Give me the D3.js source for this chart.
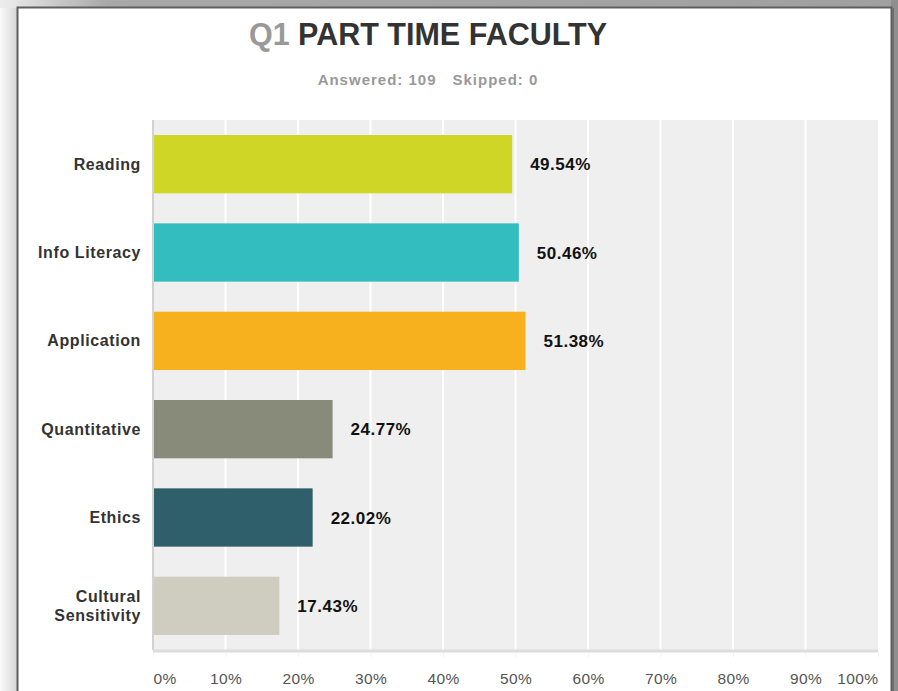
<!DOCTYPE html>
<html><head><meta charset="utf-8">
<script src="https://cdn.jsdelivr.net/npm/d3@7"></script>
<style>html,body{margin:0;padding:0;background:#fff;}svg{display:block;}</style>
</head><body>
<svg id="c" width="898" height="691"></svg>
<script>
const categories = ["Reading", "Info Literacy", "Application", "Quantitative", "Ethics", "Cultural Sensitivity"];
const values = [49.54, 50.46, 51.38, 24.77, 22.02, 17.43];
const barColors = ["#d0d626", "#33bdbf", "#f7b01e", "#888a7a", "#2e5f6a", "#cfcdbf"];
const tickValues = [0, 10, 20, 30, 40, 50, 60, 70, 80, 90, 100];
const titlePrefix = "Q1";
const titleText = " PART TIME FACULTY";
const answered = 109, skipped = 0;

(function () {
const svg = d3.select("#c");
const W = 898, H = 691;
const font = "'Liberation Sans', Arial, sans-serif";

// frame background
const defs = svg.append("defs");
const gL = defs.append("linearGradient").attr("id", "gl").attr("x1", 0).attr("x2", 1).attr("y1", 0).attr("y2", 0);
gL.append("stop").attr("offset", 0).attr("stop-color", "#fbfbfb");
gL.append("stop").attr("offset", 1).attr("stop-color", "#d4d4d4");
const gT = defs.append("linearGradient").attr("id", "gt").attr("x1", 0).attr("x2", 1).attr("y1", 0).attr("y2", 0);
gT.append("stop").attr("offset", 0).attr("stop-color", "#eeeeee");
gT.append("stop").attr("offset", 0.12).attr("stop-color", "#a8a8a8");
gT.append("stop").attr("offset", 1).attr("stop-color", "#a0a0a0");
svg.append("rect").attr("x", 0).attr("y", 0).attr("width", 18).attr("height", H).attr("fill", "url(#gl)");
svg.append("rect").attr("x", 0).attr("y", 0).attr("width", W).attr("height", 8).attr("fill", "url(#gt)");
svg.append("rect").attr("x", 891).attr("y", 0).attr("width", 7).attr("height", H).attr("fill", "#8f8f8f");
svg.append("rect").attr("x", 18).attr("y", 8).attr("width", 873).attr("height", H).attr("fill", "#ffffff");
svg.append("path").attr("d", `M17.5,${H} V7.5 H891.5 V${H}`).attr("fill", "none").attr("stroke", "#5e5e5e").attr("stroke-width", 2);
svg.append("line").attr("x1", 893).attr("x2", 893).attr("y1", 8).attr("y2", H).attr("stroke", "#6e6e6e").attr("stroke-width", 2);

// plot
const pL = 153, pR = 878, pT = 120, pB = 650;
const x = d3.scaleLinear().domain([0, 100]).range([pL, pR]);
const y = d3.scaleBand().domain(categories).range([pT, pB]).paddingInner(0.34).paddingOuter(0.17);

svg.append("rect").attr("x", pL).attr("y", pT).attr("width", pR - pL).attr("height", pB - pT).attr("fill", "#efefef");

svg.append("g").selectAll("line").data(tickValues.slice(1, -1)).join("line")
  .attr("x1", d => x(d)).attr("x2", d => x(d)).attr("y1", pT).attr("y2", pB)
  .attr("stroke", "#ffffff").attr("stroke-width", 2);

svg.append("g").selectAll("rect").data(categories).join("rect")
  .attr("x", x(0)).attr("y", d => y(d)).attr("height", y.bandwidth())
  .attr("width", (d, i) => x(values[i]) - x(0)).attr("fill", (d, i) => barColors[i]);

// axis lines
svg.append("line").attr("x1", pL).attr("x2", pL).attr("y1", pT).attr("y2", pB).attr("stroke", "#d2d2d2").attr("stroke-width", 2);
svg.append("line").attr("x1", pL).attr("x2", pR).attr("y1", pB + 1).attr("y2", pB + 1).attr("stroke", "#dcdcdc").attr("stroke-width", 3);

// x axis ticks
const xAxis = d3.axisBottom(x).tickValues(tickValues).tickFormat(d => d + "%").tickSize(4).tickPadding(16);
const ax = svg.append("g").attr("transform", `translate(0,${pB + 3})`).call(xAxis);
ax.select(".domain").remove();
ax.selectAll(".tick line").attr("stroke", "#f2f2f2");
ax.selectAll(".tick text").attr("fill", "#555").attr("font-family", font).attr("font-size", 15.5)
  .attr("letter-spacing", 0.4)
  .attr("text-anchor", d => d === 0 ? "start" : d === 100 ? "end" : "middle");

// category labels
const cl = svg.append("g").selectAll("text").data(categories).join("text")
  .attr("x", 141).attr("text-anchor", "end").attr("font-family", font).attr("font-weight", "bold")
  .attr("font-size", 16).attr("letter-spacing", 0.6).attr("fill", "#333");
cl.each(function(d) {
  const words = d.split(" ");
  const lines = (words.length > 1 && d.length > 14) ? words : [d];
  const cy = y(d) + y.bandwidth() / 2;
  const t = d3.select(this);
  lines.forEach((w, k) => {
    t.append("tspan").attr("x", 141).attr("y", cy + 5.5 + (k - (lines.length - 1) / 2) * 19).text(w);
  });
});

// value labels
svg.append("g").selectAll("text").data(categories).join("text")
  .attr("x", (d, i) => x(values[i]) + 18).attr("y", d => y(d) + y.bandwidth() / 2 + 6)
  .attr("font-family", font).attr("font-weight", "bold").attr("font-size", 17).attr("letter-spacing", 0.5)
  .attr("fill", "#111")
  .text((d, i) => values[i].toFixed(2) + "%");

// title
const title = svg.append("text").attr("x", 428).attr("y", 45).attr("text-anchor", "middle")
  .attr("font-family", font).attr("font-weight", "bold").attr("font-size", 30.5);
title.append("tspan").attr("fill", "#999").text(titlePrefix);
title.append("tspan").attr("fill", "#333").text(titleText);

const sub = svg.append("text").attr("x", 428).attr("y", 85).attr("text-anchor", "middle")
  .attr("font-family", font).attr("font-weight", "bold").attr("font-size", 15).attr("letter-spacing", 1)
  .attr("fill", "#999");
sub.append("tspan").text("Answered: " + answered);
sub.append("tspan").attr("dx", 16).text("Skipped: " + skipped);
})();
</script>
</body></html>
